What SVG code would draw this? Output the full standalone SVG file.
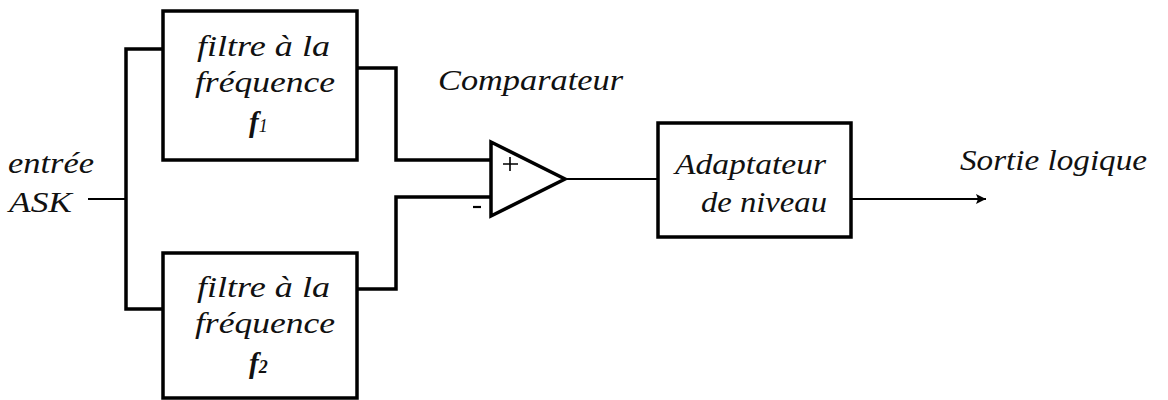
<svg xmlns="http://www.w3.org/2000/svg" width="1168" height="400" viewBox="0 0 1168 400">
<defs>
<marker id="ah" markerWidth="12" markerHeight="12" refX="10" refY="5" orient="auto" markerUnits="userSpaceOnUse">
<path d="M0,0 L10,5 L0,10 L2,5 Z" fill="#000"/>
</marker>
</defs>
<rect width="1168" height="400" fill="#fff"/>
<g id="connectors" fill="none" stroke="#000" stroke-width="3.5">
<path stroke-width="2.2" d="M88,199 H126"/>
<path d="M163,49 H126 V309 H163"/>
<path d="M357,68 H396 V160 H491"/>
<path d="M357,289 H396 V197 H491"/>
<path stroke-width="2.2" d="M566,179 H658"/>
<path stroke-width="2.2" d="M851,199 H986" marker-end="url(#ah)"/>
</g>
<g id="diagram" font-family="Liberation Serif, Times New Roman, DejaVu Serif, serif" font-style="italic" font-size="29" fill="#111">
<g id="input">
<text x="8" y="173" textLength="86" lengthAdjust="spacingAndGlyphs">entrée</text>
<text x="9" y="212" textLength="63" lengthAdjust="spacingAndGlyphs">ASK</text>
</g>
<g id="filtre1">
<rect fill="#fff" stroke="#000" stroke-width="3.5" x="163" y="11" width="194" height="149"/>
<text x="197" y="56" textLength="133" lengthAdjust="spacingAndGlyphs">filtre à la</text>
<text x="195" y="92" textLength="140" lengthAdjust="spacingAndGlyphs">fréquence</text>
<text x="249" y="132" font-weight="bold">f<tspan font-size="18" font-weight="normal">1</tspan></text>
</g>
<g id="filtre2">
<rect fill="#fff" stroke="#000" stroke-width="3.5" x="163" y="253" width="194" height="145"/>
<text x="197" y="297" textLength="133" lengthAdjust="spacingAndGlyphs">filtre à la</text>
<text x="195" y="333" textLength="140" lengthAdjust="spacingAndGlyphs">fréquence</text>
<text x="249" y="373" font-weight="bold">f<tspan font-size="18">2</tspan></text>
</g>
<g id="comparateur">
<path fill="none" stroke="#000" stroke-width="3.5" d="M491,142 L565,179 L491,216 Z"/>
<text x="438" y="90" textLength="185" lengthAdjust="spacingAndGlyphs">Comparateur</text>
<path d="M503,164 H518 M510,157 V171" stroke="#000" stroke-width="1.6"/>
<path d="M473,207 H481" stroke="#000" stroke-width="2.2"/>
</g>
<g id="adaptateur">
<rect fill="#fff" stroke="#000" stroke-width="3.5" x="658" y="123" width="193" height="114"/>
<text x="675" y="174" textLength="151" lengthAdjust="spacingAndGlyphs">Adaptateur</text>
<text x="701" y="212" textLength="126" lengthAdjust="spacingAndGlyphs">de niveau</text>
</g>
<g id="sortie">
<text x="960" y="170" textLength="187" lengthAdjust="spacingAndGlyphs">Sortie logique</text>
</g>
</g>
</svg>
